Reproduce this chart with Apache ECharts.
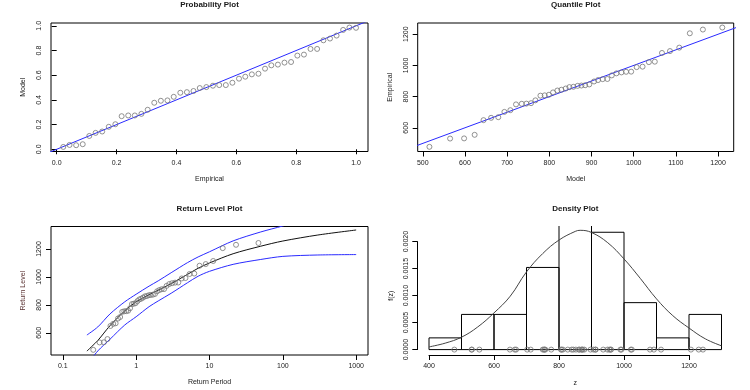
<!DOCTYPE html>
<html>
<head>
<meta charset="utf-8">
<script src="https://cdn.jsdelivr.net/npm/echarts@6/dist/echarts.min.js"></script>
<style>
html,body{margin:0;padding:0;background:#fff;}
#c{width:750px;height:390px;}
</style>
</head>
<body>
<div id="c"></div>
<script>
// ---------- data ----------
const probEmpirical = [0.022,0.043,0.065,0.087,0.109,0.130,0.152,0.174,0.196,0.217,0.239,0.261,0.283,0.304,0.326,0.348,0.370,0.391,0.413,0.435,0.457,0.478,0.500,0.522,0.543,0.565,0.587,0.609,0.630,0.652,0.674,0.696,0.717,0.739,0.761,0.783,0.804,0.826,0.848,0.870,0.891,0.913,0.935,0.957,0.978,1.000];
const probModel = [0.019,0.035,0.033,0.041,0.108,0.133,0.144,0.182,0.203,0.268,0.274,0.274,0.287,0.320,0.377,0.393,0.396,0.425,0.458,0.463,0.472,0.496,0.504,0.515,0.520,0.520,0.539,0.572,0.588,0.607,0.612,0.653,0.680,0.686,0.702,0.707,0.759,0.767,0.813,0.813,0.883,0.897,0.921,0.967,0.986,0.984];
const quantModel = [515.8,564.8,598,623,644,662,679,693.5,707.6,721,734.6,745.6,756.7,767,778.9,789,799,808.8,819,828.6,838.9,847.6,857,867,876,885,894.6,906,915.5,926.5,937.6,948,959,970.9,982,994,1007,1021,1036,1050,1067,1086,1108,1133,1164,1210];
const observed = [478,531,532,555,649,664,668,702,713,750,754,755,758,776,806,808,812,827,839,844,852,861,863,869,871,873,878,897,906,912,913,936,949,955,959,960,989,992,1021,1024,1080,1092,1114,1206,1230,1243];
const returnPeriod = [0.260,0.317,0.363,0.406,0.446,0.486,0.525,0.565,0.605,0.646,0.689,0.733,0.778,0.826,0.876,0.928,0.983,1.042,1.104,1.171,1.241,1.317,1.399,1.488,1.584,1.689,1.804,1.931,2.071,2.227,2.403,2.601,2.828,3.089,3.392,3.751,4.181,4.704,5.359,6.200,7.321,8.889,11.24,15.16,23.00,46.50];
const rlPeriod = [0.213,0.3,0.44,0.7,1,1.5,2,3,5,7,10,21,50,100,300,1000];
const rlFit   = [469,545,651,757,822,873,905,952,1018,1062,1100,1166,1220,1257,1300,1336];
const rlUpper = [584,642,735,822,876,934,972,1030,1102,1143,1180,1258,1322,1365,1440,1520];
const rlLower = [370,470,554,656,715,787,828,883,958,1005,1040,1090,1125,1147,1157,1160];
const histLeft  = [400,500,600,700,800,900,1000,1100,1200];
const histRight = [500,600,700,800,900,1000,1100,1200,1300];
const histDensity = [0.000217,0.000652,0.000652,0.001522,0.003043,0.002174,0.000870,0.000217,0.000652];
const densX = [400,450,500,550,600,650,700,750,800,850,865,900,950,1000,1050,1100,1150,1200,1250,1300];
const densY = [0.00005,0.00012,0.00023,0.00042,0.00068,0.00099,0.00144,0.00178,0.00203,0.00219,0.00221,0.00217,0.00198,0.00168,0.00132,0.00094,0.00063,0.00040,0.00020,0.00007];
const oneToOneProb = [-0.1,1.1];
const oneToOneQuant = [400,1300];
const probTicks = [0,0.2,0.4,0.6,0.8,1.0];
const quantXTicks = [500,600,700,800,900,1000,1100,1200];
const quantYTicks = [600,800,1000,1200];
const rlXTicks = [0.1,1,10,100,1000];
const rlYTicks = [600,800,1000,1200];
const densXTicks = [400,600,800,1000,1200];
const densYTicks = [0,0.0005,0.0010,0.0015,0.0020];

// ---------- helpers ----------
const FONT = 'Liberation Sans, Arial, sans-serif';
const TXT = '#1a1a1a';
const FS = 7;
function xAx(gi, min, max, ticks, fmt, name, extra) {
  return Object.assign({
    gridIndex: gi, type: 'value', min: min, max: max, position: 'bottom',
    axisLine: {show: false},
    axisTick: {show: true, inside: false, length: 5, customValues: ticks, lineStyle: {color: '#000', width: 1}},
    axisLabel: {show: true, customValues: ticks, formatter: fmt, fontSize: FS, color: TXT, margin: 8, fontFamily: FONT},
    splitLine: {show: false},
    name: name, nameLocation: 'middle', nameGap: 24,
    nameTextStyle: {fontSize: FS, color: TXT, fontFamily: FONT}
  }, extra || {});
}
function yAx(gi, min, max, ticks, fmt, name, extra) {
  return Object.assign({
    gridIndex: gi, type: 'value', min: min, max: max, position: 'left',
    axisLine: {show: false},
    axisTick: {show: true, inside: false, length: 5, customValues: ticks, lineStyle: {color: '#000', width: 1}},
    axisLabel: {show: true, customValues: ticks, formatter: fmt, fontSize: FS, color: TXT, margin: 8, rotate: 90, fontFamily: FONT},
    splitLine: {show: false},
    name: name, nameLocation: 'middle', nameGap: 24, nameRotate: 90,
    nameTextStyle: {fontSize: FS, color: TXT, fontFamily: FONT}
  }, extra || {});
}
const boxGrid = (l, t, w, h) => ({left: l, top: t, width: w, height: h, show: true, borderColor: '#000', borderWidth: 1, backgroundColor: 'transparent', containLabel: false});
const plainGrid = (l, t, w, h) => ({left: l, top: t, width: w, height: h, show: false, containLabel: false});
const circle = {symbol: 'circle', symbolSize: 5, itemStyle: {color: 'transparent', borderColor: '#777', borderWidth: 1}};
const zip = (a, b) => a.map((v, i) => [v, b[i]]);
const titleStyle = {fontSize: 8, fontWeight: 'bold', color: TXT, fontFamily: FONT};

const chart = echarts.init(document.getElementById('c'), null, {renderer: 'canvas'});

const option = {
  animation: false,
  backgroundColor: '#fff',
  title: [
    {text: 'Probability Plot', left: 209.5, top: 1, textAlign: 'center', padding: 0, textStyle: titleStyle},
    {text: 'Quantile Plot', left: 575.7, top: 1, textAlign: 'center', padding: 0, textStyle: titleStyle},
    {text: 'Return Level Plot', left: 209.5, top: 205, textAlign: 'center', padding: 0, textStyle: titleStyle},
    {text: 'Density Plot', left: 575.3, top: 205, textAlign: 'center', padding: 0, textStyle: titleStyle}
  ],
  grid: [
    boxGrid(51, 23, 317, 128.5),      // 0 probability
    boxGrid(417.7, 23, 316, 128.5),   // 1 quantile
    boxGrid(51, 226.5, 317, 128.5),   // 2 return level
    plainGrid(417.3, 226, 315.9, 129),// 3 density main
    plainGrid(429, 345, 260, 10),     // 4 density x-axis
    plainGrid(417.3, 241.6, 10, 108)  // 5 density y-axis
  ],
  xAxis: [
    xAx(0, -0.019, 1.040, probTicks, v => v.toFixed(1), 'Empirical'),
    xAx(1, 488, 1237, quantXTicks, v => String(v), 'Model'),
    xAx(2, 0.069, 1450, rlXTicks, v => String(v), 'Return Period', {type: 'log', logBase: 10}),
    xAx(3, 364, 1336, [], v => '', 'z', {axisTick: {show: false}, axisLabel: {show: false}, nameGap: 25}),
    xAx(4, 400, 1200, densXTicks, v => String(v), '', {axisLine: {show: true, onZero: false, lineStyle: {color: '#000', width: 1}}}),
    {gridIndex: 5, type: 'value', min: 0, max: 1, show: false}
  ],
  yAxis: [
    yAx(0, -0.018, 1.023, probTicks, v => v.toFixed(1), 'Model'),
    yAx(1, 448, 1272, quantYTicks, v => String(v), 'Empirical'),
    yAx(2, 441, 1361, rlYTicks, v => String(v), 'Return Level', {nameTextStyle: {fontSize: FS, color: '#5b3333', fontFamily: FONT}}),
    yAx(3, -0.0001, 0.00229, [], v => '', '', {axisTick: {show: false}, axisLabel: {show: false}}),
    {gridIndex: 4, type: 'value', min: 0, max: 1, show: false},
    yAx(5, 0, 0.002, densYTicks, v => v.toFixed(4), 'f(z)', {axisLine: {show: true, onZero: false, lineStyle: {color: '#000', width: 1}}, nameGap: 23})
  ],
  series: [
    // Probability plot
    {type: 'line', xAxisIndex: 0, yAxisIndex: 0, data: zip(oneToOneProb, oneToOneProb), symbol: 'none', lineStyle: {color: '#2a2aff', width: 1}, clip: true, z: 2},
    Object.assign({type: 'scatter', xAxisIndex: 0, yAxisIndex: 0, data: zip(probEmpirical, probModel), z: 3}, circle),
    // Quantile plot
    {type: 'line', xAxisIndex: 1, yAxisIndex: 1, data: zip(oneToOneQuant, oneToOneQuant), symbol: 'none', lineStyle: {color: '#2a2aff', width: 1}, clip: true, z: 2},
    Object.assign({type: 'scatter', xAxisIndex: 1, yAxisIndex: 1, data: zip(quantModel, observed), z: 3}, circle),
    // Return level plot
    {type: 'line', xAxisIndex: 2, yAxisIndex: 2, data: zip(rlPeriod, rlFit), symbol: 'none', smooth: 0.3, lineStyle: {color: '#111', width: 1}, clip: true, z: 2},
    {type: 'line', xAxisIndex: 2, yAxisIndex: 2, data: zip(rlPeriod, rlUpper), symbol: 'none', smooth: 0.3, lineStyle: {color: '#2a2aff', width: 1}, clip: true, z: 2},
    {type: 'line', xAxisIndex: 2, yAxisIndex: 2, data: zip(rlPeriod, rlLower), symbol: 'none', smooth: 0.3, lineStyle: {color: '#2a2aff', width: 1}, clip: true, z: 2},
    Object.assign({type: 'scatter', xAxisIndex: 2, yAxisIndex: 2, data: zip(returnPeriod, observed), z: 3}, circle),
    // Density plot: histogram
    {
      type: 'custom', xAxisIndex: 3, yAxisIndex: 3,
      data: histLeft.map((l, i) => [l, histRight[i], histDensity[i]]),
      renderItem: function (params, api) {
        const cs = params.coordSys;
        const pb = api.coord([api.value(0), 0]);
        const pt = api.coord([api.value(1), api.value(2)]);
        const xl = pb[0], xr = pt[0], yb = pb[1];
        let yt = pt[1];
        const style = {stroke: '#000', lineWidth: 1, fill: null};
        if (yt >= cs.y) {
          return {type: 'polygon', shape: {points: [[xl, yb], [xl, yt], [xr, yt], [xr, yb]]}, style: style};
        }
        yt = cs.y;
        return {type: 'polyline', shape: {points: [[xl, yt], [xl, yb], [xr, yb], [xr, yt]]}, style: style};
      },
      z: 2
    },
    // density curve
    {type: 'line', xAxisIndex: 3, yAxisIndex: 3, data: zip(densX, densY), symbol: 'none', smooth: 0.4, lineStyle: {color: '#444', width: 1}, z: 3},
    // rug of observations
    Object.assign({type: 'scatter', xAxisIndex: 3, yAxisIndex: 3, data: observed.map(v => [v, 0]), z: 4}, circle)
  ]
};
chart.setOption(option);
</script>
</body>
</html>
